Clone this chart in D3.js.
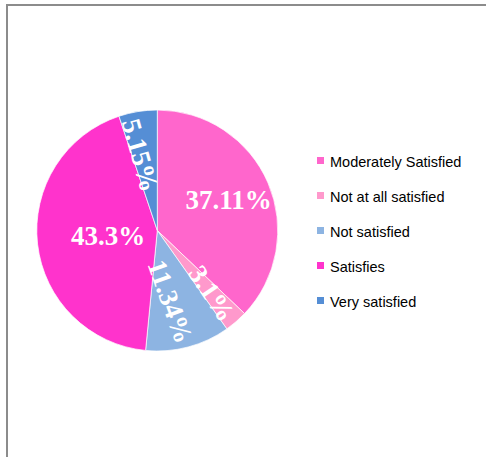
<!DOCTYPE html>
<html>
<head>
<meta charset="utf-8">
<script src="https://cdn.jsdelivr.net/npm/d3@7"></script>
<style>
  html, body { margin: 0; padding: 0; background: #fff; }
  svg { display: block; }
</style>
</head>
<body>
<svg id="chart" width="486" height="457"></svg>
<script>
// Survey results: satisfaction levels (percent of respondents)
const categories = ["Moderately Satisfied", "Not at all satisfied", "Not satisfied", "Satisfies", "Very satisfied"];
const values = [37.11, 3.1, 11.34, 43.3, 5.15];
const colors = ["#ff66cc", "#ff99cc", "#8db4e2", "#ff33cc", "#558ed5"];

// Label placement: radius as a fraction of the pie radius, plus small
// angular nudges (degrees) for position and text tilt of the rotated labels
const labelRadius = [0.645, 0.69, 0.6, 0.41, 0.64];
const labelTurn = [0, 0, 4.5, 0, -3.5];
const labelTilt = [0, 7, -5, 0, -6.5];

const svg = d3.select("#chart");

// Frame lines along the top and left
svg.append("line").attr("x1", 7).attr("x2", 486).attr("y1", 5).attr("y2", 5)
  .attr("stroke", "#8c8c8c").attr("stroke-width", 2);
svg.append("line").attr("x1", 7).attr("x2", 7).attr("y1", 4).attr("y2", 457)
  .attr("stroke", "#8c8c8c").attr("stroke-width", 2);

const cx = 157.3, cy = 230.5, R = 120.5;
const data = categories.map((c, i) => ({
  name: c, value: values[i], color: colors[i],
  lr: labelRadius[i], turn: labelTurn[i], tilt: labelTilt[i]
}));

const pie = d3.pie().value(d => d.value).sort(null);
const arc = d3.arc().innerRadius(0).outerRadius(R);
const arcs = pie(data);

const g = svg.append("g").attr("transform", `translate(${cx},${cy})`);

g.selectAll("path.slice").data(arcs).enter().append("path")
  .attr("class", "slice")
  .attr("d", arc)
  .attr("fill", d => d.data.color)
  .attr("stroke", "#ffffff")
  .attr("stroke-width", 0.7);

g.selectAll("text.lbl").data(arcs).enter().append("text")
  .attr("class", "lbl")
  .attr("transform", d => {
    const midDeg = (d.startAngle + d.endAngle) / 2 * 180 / Math.PI;
    const a = (midDeg + d.data.turn) * Math.PI / 180;
    const r = R * d.data.lr;
    const x = r * Math.sin(a), y = -r * Math.cos(a);
    let rot = 0;
    if (d.data.value < 15) {
      rot = midDeg - 90;
      if (rot > 90) rot -= 180;
      rot += d.data.tilt;
    }
    return `translate(${x},${y}) rotate(${rot})`;
  })
  .attr("text-anchor", "middle")
  .attr("dominant-baseline", "central")
  .attr("fill", "#ffffff")
  .attr("font-family", "'Liberation Serif', 'Times New Roman', serif")
  .attr("font-weight", "bold")
  .attr("font-size", 27)
  .text(d => d.data.value + "%");

// Legend
const legend = svg.append("g").attr("transform", "translate(317,157)");
const rows = legend.selectAll("g").data(data).enter().append("g")
  .attr("transform", (d, i) => `translate(0,${i * 35})`);
rows.append("rect").attr("width", 7).attr("height", 7).attr("fill", d => d.color);
rows.append("text")
  .attr("x", 13).attr("y", 9.5)
  .attr("font-family", "'Liberation Sans', Arial, sans-serif")
  .attr("font-size", 14.5)
  .attr("fill", "#000000")
  .text(d => d.name);
</script>
</body>
</html>
